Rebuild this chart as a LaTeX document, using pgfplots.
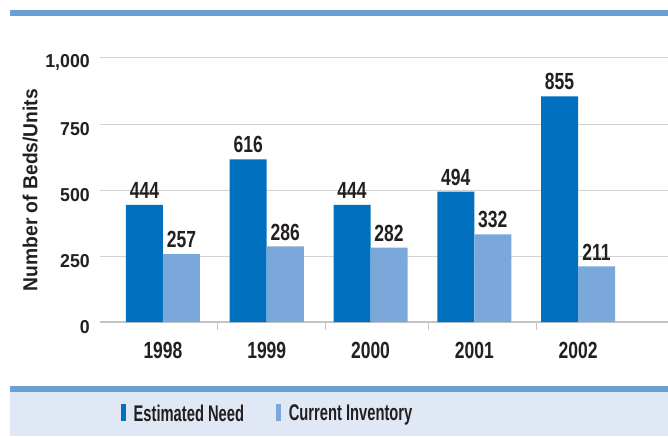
\documentclass[border=0pt]{standalone}
\usepackage{pgfplots}
\pgfplotsset{compat=1.18}
\usepackage{fontspec}
\setmainfont{Liberation Sans}
\newfontfamily\cf[FakeStretch=0.75]{Liberation Sans}
\newfontfamily\tf[FakeStretch=0.95]{Liberation Sans}
\newfontfamily\lf[FakeStretch=0.65]{Liberation Sans}
\definecolor{dblue}{HTML}{0070BF}
\definecolor{lblue}{HTML}{7BA8DA}
\definecolor{rule}{HTML}{6A9FD5}
\definecolor{band}{HTML}{E1E8F5}
\definecolor{gridc}{HTML}{D2D2D2}
\definecolor{axisc}{HTML}{C4C4C4}
\definecolor{txt}{HTML}{231F20}
\begin{document}
\begin{tikzpicture}
\useasboundingbox (0,0) rectangle (501pt,327pt);
\fill[band] (7.5pt,0pt) rectangle (501pt,33pt);
\draw[rule, line width=4.5pt] (7.5pt,35.25pt) -- (501pt,35.25pt);
\draw[rule, line width=4.2pt] (7.5pt,317.4pt) -- (501pt,317.4pt);
\begin{axis}[
  at={(75pt,85.5pt)}, anchor=south west,
  scale only axis, width=426pt, height=198pt,
  xmin=-0.607, xmax=4.867, ymin=0, ymax=1000,
  ybar=0pt, bar width=27.75pt,
  separate axis lines,
  axis x line*=bottom, axis y line*=left,
  axis line style={-},
  y axis line style={draw=none},
  x axis line style={draw=axisc, line width=1.5pt},
  ymajorgrids, grid style={draw=gridc, line width=0.75pt},
  major tick length=0pt, tick align=outside,
  xtick={0,1,2,3,4},
  xticklabels={1998,1999,2000,2001,2002},
  extra x ticks={0.53,1.57,2.56,3.6},
  extra x tick labels={{},{},{},{}},
  extra x tick style={major tick length=6pt, tick style={draw=axisc, line width=0.75pt}},
  ytick={0,250,500,750,1000},
  /pgf/number format/.cd, 1000 sep={,}, assume math mode=true, /pgfplots/.cd,
  xticklabel style={font=\cf\bfseries\fontsize{17.5}{17.5}\selectfont, text=txt, inner sep=0pt, yshift=-15pt},
  yticklabel style={font=\tf\bfseries\fontsize{14}{14}\selectfont, text=txt, inner sep=0pt, xshift=-7.5pt, yshift=-3.5pt},
  ylabel={Number of Beds/Units},
  every axis y label/.style={at={(axis description cs:-0.123,0.5)}, rotate=90, anchor=center, font=\tf\bfseries\fontsize{15.2}{15.2}\selectfont, text=txt},
  nodes near coords,
  every node near coord/.append style={font=\cf\bfseries\fontsize{17.5}{17.5}\selectfont, text=txt, inner sep=0pt, yshift=4.5pt},
  legend columns=2,
  legend style={at={(0.2958,-0.3485)}, anchor=center, draw=none, fill=none,
    font=\lf\bfseries\fontsize{17}{17}\selectfont, text=txt,
    /tikz/every even column/.append style={column sep=22pt}},
  legend image code/.code={\fill[#1] (0pt,-5.5pt) rectangle (3.75pt,7.5pt); \path (7.5pt,0pt);},
]
\addplot[fill=dblue, draw=none] coordinates {(0,444) (1,616) (2,444) (3,494) (4,855)};
\addplot[fill=lblue, draw=none] coordinates {(0,257) (1,286) (2,282) (3,332) (4,211)};
\legend{Estimated Need, Current Inventory}
\end{axis}
\end{tikzpicture}
\end{document}
